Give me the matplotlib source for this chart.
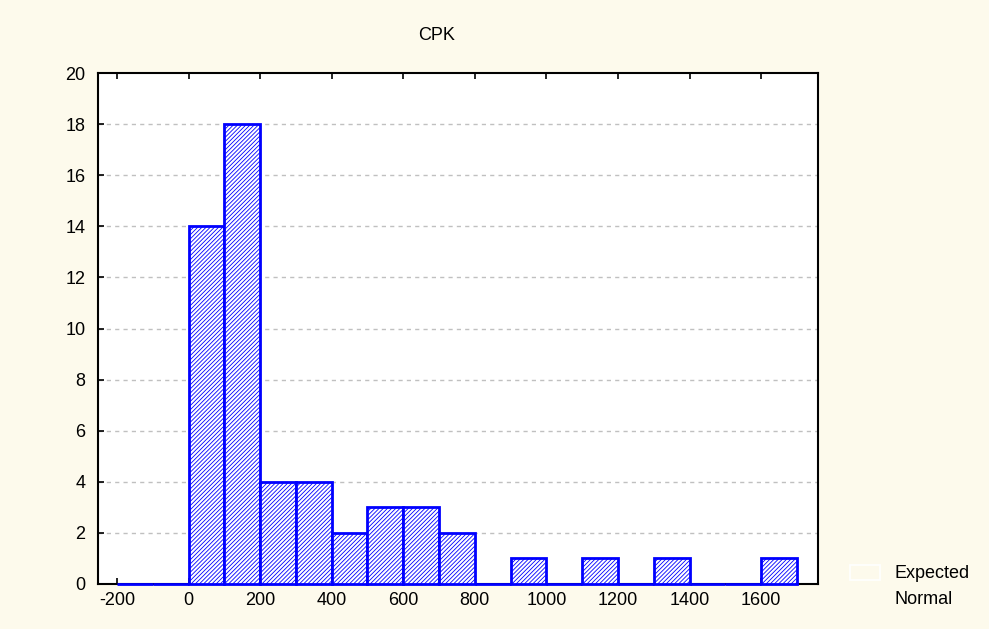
import numpy as np
import matplotlib
matplotlib.use('Agg')
import matplotlib.pyplot as plt
from matplotlib.patches import Rectangle

# ── Data ──────────────────────────────────────────────────────
bin_left = [-200, -100, 0, 100, 200, 300, 400, 500, 600, 700,
            800, 900, 1000, 1100, 1200, 1300, 1400, 1500, 1600]
counts   = [0, 0, 14, 18, 4, 4, 2, 3, 3, 2,
            0, 1, 0, 1, 0, 1, 0, 0, 1]
bin_w    = 100
xticks   = [-200, 0, 200, 400, 600, 800, 1000, 1200, 1400, 1600]
yticks   = [0, 2, 4, 6, 8, 10, 12, 14, 16, 18, 20]

# ── Style ─────────────────────────────────────────────────────
plt.rcParams['font.family'] = ['Liberation Sans', 'DejaVu Sans']
plt.rcParams['font.size'] = 13
plt.rcParams['axes.unicode_minus'] = False
plt.rcParams['hatch.linewidth'] = 0.6
bg = '#fdfaec'

fig = plt.figure(figsize=(9.89, 6.29), dpi=100, facecolor=bg)
ax = fig.add_axes([98/989, 45/629, 720/989, 511/629])
ax.set_facecolor('white')

bars = ax.bar(bin_left, counts, width=bin_w, align='edge', facecolor='white',
              edgecolor='#0000ff', linewidth=2, hatch='////////', zorder=5)
for b in bars:
    b.set_clip_on(False)

ax.set_xlim(-253, 1759)
ax.set_ylim(0, 20)
ax.set_xticks(xticks)
ax.set_yticks(yticks)
ax.tick_params(direction='in', length=4, width=1.2, top=True, right=False,
               labelsize=13)
ax.tick_params(axis='x', pad=6)
ax.tick_params(axis='y', pad=9)
for s in ax.spines.values():
    s.set_linewidth(1.5)
    s.set_zorder(4)

for v in yticks[1:-1]:
    ax.axhline(v, color='#c0c0c0', ls=(0, (3, 3)), lw=1, zorder=1)

fig.text(437/989, 1 - 35/629, 'CPK', ha='center', va='center', fontsize=13)

# legend: empty white key + label
fig.patches.append(Rectangle((850/989, 1 - 580/629), 30/989, 15/629,
                             transform=fig.transFigure, facecolor=bg,
                             edgecolor='white', lw=1.2))
fig.text(895/989, 1 - 573/629, 'Expected', ha='left', va='center', fontsize=13)
fig.text(895/989, 1 - 599/629, 'Normal', ha='left', va='center', fontsize=13)

plt.savefig('out.png', dpi=100, facecolor=bg)
